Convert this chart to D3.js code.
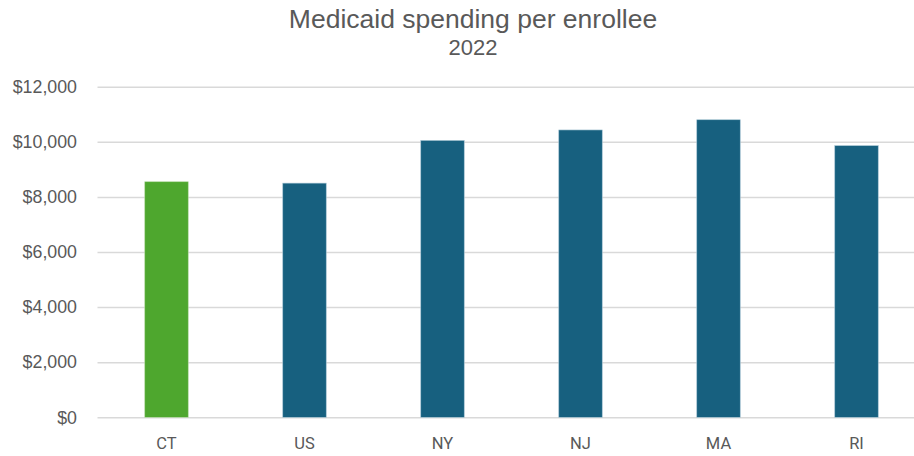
<!DOCTYPE html>
<html>
<head>
<meta charset="utf-8">
<script src="https://cdn.jsdelivr.net/npm/d3@7"></script>
<style>
  html, body { margin: 0; padding: 0; background: #fff; }
  svg { display: block; font-family: "Liberation Sans", Arial, sans-serif; }
</style>
</head>
<body>
<svg id="chart" width="914" height="456"></svg>
<script>
// Medicaid spending per enrollee, 2022
const categories = ["CT", "US", "NY", "NJ", "MA", "RI"];
const spending = [8550, 8500, 10050, 10430, 10800, 9860];
const yTicks = [0, 2000, 4000, 6000, 8000, 10000, 12000];
const highlight = "CT";

const width = 914, height = 456;
const svg = d3.select("#chart");

const x = d3.scaleBand()
  .domain(categories)
  .range([97.5, 925.5])
  .paddingInner(0.685)
  .paddingOuter(0.3425);

const y = d3.scaleLinear()
  .domain([0, 12000])
  .range([417.3, 86.7]);

// Title and subtitle
svg.append("text")
  .attr("x", 473).attr("y", 28)
  .attr("text-anchor", "middle")
  .attr("fill", "#595959")
  .style("font-size", "26.5px")
  .text("Medicaid spending per enrollee");
svg.append("text")
  .attr("x", 473).attr("y", 55)
  .attr("text-anchor", "middle")
  .attr("fill", "#595959")
  .style("font-size", "22px")
  .text("2022");

// Horizontal gridlines with dollar labels
const yAxis = d3.axisLeft(y)
  .tickValues(yTicks)
  .tickSize(-(width - 97.5))
  .tickPadding(20.5)
  .tickFormat(d => "$" + d3.format(",")(d));

const gy = svg.append("g")
  .attr("transform", "translate(97.5,0)")
  .call(yAxis);
gy.select(".domain").remove();
gy.selectAll(".tick line")
  .attr("stroke", "#d9d9d9")
  .attr("stroke-width", 1.5);
gy.selectAll(".tick text")
  .attr("fill", "#595959")
  .style("font-size", "17.8px");

// Bars
svg.append("g")
  .selectAll("rect")
  .data(categories.map((c, i) => ({ c, v: spending[i] })))
  .join("rect")
  .attr("x", d => x(d.c))
  .attr("y", d => y(d.v))
  .attr("width", x.bandwidth())
  .attr("height", d => y(0) - y(d.v))
  .attr("fill", d => d.c === highlight ? "#4ea72e" : "#17607f")
  .attr("stroke", d => d.c === highlight ? "#b8dba8" : "#a9c6d4")
  .attr("stroke-width", 0.6);

// Category labels
const xAxis = d3.axisBottom(x).tickSize(0).tickPadding(19.5);
const gx = svg.append("g")
  .attr("transform", `translate(0,${y(0)})`)
  .call(xAxis);
gx.select(".domain").remove();
gx.selectAll(".tick text")
  .attr("fill", "#595959")
  .style("font-size", "16.5px")
  .style("font-family", "Roboto, 'Liberation Sans', sans-serif");
</script>
</body>
</html>
